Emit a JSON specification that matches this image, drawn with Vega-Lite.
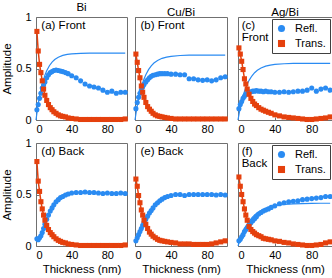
{
"$schema":"https://vega.github.io/schema/vega-lite/v6.json",
"padding":{"left":1,"top":1,"right":1,"bottom":0},
"background":"white",
"config":{
"font":"Liberation Sans",
"view":{"stroke":"#707070","strokeWidth":1},
"axis":{"grid":false,"domain":false,"tickColor":"#707070","tickSize":-3,"labelFontSize":11,"labelColor":"#000","titleFontSize":11.5,"titleFontWeight":"normal","titleColor":"#000","titlePadding":3},
"axisX":{"labelPadding":6},
"axisY":{"labelPadding":8},
"title":{"fontSize":11.5,"fontWeight":"normal","color":"#000","offset":-2},
"legend":{"labelFontSize":11,"labelColor":"#000","symbolSize":50,"symbolStrokeWidth":0,"padding":4,"rowPadding":3,"strokeColor":"#404040","fillColor":"#fff","offset":2,"labelOffset":8,"cornerRadius":0}
},
"datasets":{
"pts":[
{"p":"a","s":"Refl.","x":1,"y":0.10},{"p":"a","s":"Refl.","x":2.5,"y":0.15},{"p":"a","s":"Refl.","x":4,"y":0.21},{"p":"a","s":"Refl.","x":5.5,"y":0.26},{"p":"a","s":"Refl.","x":7,"y":0.31},{"p":"a","s":"Refl.","x":8.5,"y":0.34},{"p":"a","s":"Refl.","x":10,"y":0.37},{"p":"a","s":"Refl.","x":12,"y":0.41},{"p":"a","s":"Refl.","x":14,"y":0.44},{"p":"a","s":"Refl.","x":16,"y":0.46},{"p":"a","s":"Refl.","x":18,"y":0.47},{"p":"a","s":"Refl.","x":20,"y":0.48},{"p":"a","s":"Refl.","x":22.5,"y":0.485},{"p":"a","s":"Refl.","x":25,"y":0.48},{"p":"a","s":"Refl.","x":27.5,"y":0.475},{"p":"a","s":"Refl.","x":30,"y":0.47},{"p":"a","s":"Refl.","x":33,"y":0.46},{"p":"a","s":"Refl.","x":36,"y":0.45},{"p":"a","s":"Refl.","x":40,"y":0.43},{"p":"a","s":"Refl.","x":45,"y":0.41},{"p":"a","s":"Refl.","x":50,"y":0.38},{"p":"a","s":"Refl.","x":55,"y":0.35},{"p":"a","s":"Refl.","x":60,"y":0.33},{"p":"a","s":"Refl.","x":65,"y":0.32},{"p":"a","s":"Refl.","x":70,"y":0.31},{"p":"a","s":"Refl.","x":75,"y":0.29},{"p":"a","s":"Refl.","x":80,"y":0.27},{"p":"a","s":"Refl.","x":85,"y":0.28},{"p":"a","s":"Refl.","x":90,"y":0.26},{"p":"a","s":"Refl.","x":95,"y":0.27},{"p":"a","s":"Refl.","x":100,"y":0.27},
{"p":"a","s":"Trans.","x":1,"y":0.86},{"p":"a","s":"Trans.","x":2.5,"y":0.67},{"p":"a","s":"Trans.","x":4,"y":0.54},{"p":"a","s":"Trans.","x":5.5,"y":0.46},{"p":"a","s":"Trans.","x":7,"y":0.38},{"p":"a","s":"Trans.","x":8.5,"y":0.30},{"p":"a","s":"Trans.","x":10,"y":0.24},{"p":"a","s":"Trans.","x":12,"y":0.19},{"p":"a","s":"Trans.","x":14,"y":0.15},{"p":"a","s":"Trans.","x":16,"y":0.12},{"p":"a","s":"Trans.","x":18,"y":0.10},{"p":"a","s":"Trans.","x":20,"y":0.08},{"p":"a","s":"Trans.","x":22.5,"y":0.065},{"p":"a","s":"Trans.","x":25,"y":0.05},{"p":"a","s":"Trans.","x":27.5,"y":0.04},{"p":"a","s":"Trans.","x":30,"y":0.035},{"p":"a","s":"Trans.","x":33,"y":0.03},{"p":"a","s":"Trans.","x":36,"y":0.02},{"p":"a","s":"Trans.","x":40,"y":0.015},{"p":"a","s":"Trans.","x":45,"y":0.01},{"p":"a","s":"Trans.","x":50,"y":0.005},{"p":"a","s":"Trans.","x":55,"y":0.005},{"p":"a","s":"Trans.","x":60,"y":0.005},{"p":"a","s":"Trans.","x":65,"y":0.005},{"p":"a","s":"Trans.","x":70,"y":0.005},{"p":"a","s":"Trans.","x":75,"y":0.005},{"p":"a","s":"Trans.","x":80,"y":0.005},{"p":"a","s":"Trans.","x":85,"y":0.005},{"p":"a","s":"Trans.","x":90,"y":0.005},{"p":"a","s":"Trans.","x":95,"y":0.005},{"p":"a","s":"Trans.","x":100,"y":0.01},
{"p":"b","s":"Refl.","x":1,"y":0.11},{"p":"b","s":"Refl.","x":2.5,"y":0.17},{"p":"b","s":"Refl.","x":4,"y":0.22},{"p":"b","s":"Refl.","x":5.5,"y":0.26},{"p":"b","s":"Refl.","x":7,"y":0.29},{"p":"b","s":"Refl.","x":8.5,"y":0.32},{"p":"b","s":"Refl.","x":10,"y":0.345},{"p":"b","s":"Refl.","x":12,"y":0.37},{"p":"b","s":"Refl.","x":14,"y":0.39},{"p":"b","s":"Refl.","x":16,"y":0.41},{"p":"b","s":"Refl.","x":18,"y":0.425},{"p":"b","s":"Refl.","x":20,"y":0.435},{"p":"b","s":"Refl.","x":22.5,"y":0.44},{"p":"b","s":"Refl.","x":25,"y":0.445},{"p":"b","s":"Refl.","x":27.5,"y":0.45},{"p":"b","s":"Refl.","x":30,"y":0.45},{"p":"b","s":"Refl.","x":33,"y":0.45},{"p":"b","s":"Refl.","x":36,"y":0.45},{"p":"b","s":"Refl.","x":40,"y":0.445},{"p":"b","s":"Refl.","x":45,"y":0.445},{"p":"b","s":"Refl.","x":50,"y":0.44},{"p":"b","s":"Refl.","x":55,"y":0.44},{"p":"b","s":"Refl.","x":60,"y":0.40},{"p":"b","s":"Refl.","x":65,"y":0.40},{"p":"b","s":"Refl.","x":70,"y":0.39},{"p":"b","s":"Refl.","x":75,"y":0.385},{"p":"b","s":"Refl.","x":80,"y":0.39},{"p":"b","s":"Refl.","x":85,"y":0.38},{"p":"b","s":"Refl.","x":90,"y":0.39},{"p":"b","s":"Refl.","x":95,"y":0.41},{"p":"b","s":"Refl.","x":100,"y":0.42},
{"p":"b","s":"Trans.","x":1,"y":0.64},{"p":"b","s":"Trans.","x":2.5,"y":0.56},{"p":"b","s":"Trans.","x":4,"y":0.48},{"p":"b","s":"Trans.","x":5.5,"y":0.41},{"p":"b","s":"Trans.","x":7,"y":0.33},{"p":"b","s":"Trans.","x":8.5,"y":0.27},{"p":"b","s":"Trans.","x":10,"y":0.22},{"p":"b","s":"Trans.","x":12,"y":0.17},{"p":"b","s":"Trans.","x":14,"y":0.13},{"p":"b","s":"Trans.","x":16,"y":0.105},{"p":"b","s":"Trans.","x":18,"y":0.085},{"p":"b","s":"Trans.","x":20,"y":0.065},{"p":"b","s":"Trans.","x":22.5,"y":0.05},{"p":"b","s":"Trans.","x":25,"y":0.04},{"p":"b","s":"Trans.","x":27.5,"y":0.035},{"p":"b","s":"Trans.","x":30,"y":0.03},{"p":"b","s":"Trans.","x":33,"y":0.025},{"p":"b","s":"Trans.","x":36,"y":0.02},{"p":"b","s":"Trans.","x":40,"y":0.015},{"p":"b","s":"Trans.","x":45,"y":0.01},{"p":"b","s":"Trans.","x":50,"y":0.01},{"p":"b","s":"Trans.","x":55,"y":0.01},{"p":"b","s":"Trans.","x":60,"y":0.01},{"p":"b","s":"Trans.","x":65,"y":0.01},{"p":"b","s":"Trans.","x":70,"y":0.01},{"p":"b","s":"Trans.","x":75,"y":0.01},{"p":"b","s":"Trans.","x":80,"y":0.01},{"p":"b","s":"Trans.","x":85,"y":0.01},{"p":"b","s":"Trans.","x":90,"y":0.01},{"p":"b","s":"Trans.","x":95,"y":0.01},{"p":"b","s":"Trans.","x":100,"y":0.01},
{"p":"c","s":"Refl.","x":1,"y":0.11},{"p":"c","s":"Refl.","x":2.5,"y":0.15},{"p":"c","s":"Refl.","x":4,"y":0.18},{"p":"c","s":"Refl.","x":5.5,"y":0.21},{"p":"c","s":"Refl.","x":7,"y":0.23},{"p":"c","s":"Refl.","x":8.5,"y":0.25},{"p":"c","s":"Refl.","x":10,"y":0.26},{"p":"c","s":"Refl.","x":12,"y":0.27},{"p":"c","s":"Refl.","x":14,"y":0.275},{"p":"c","s":"Refl.","x":16,"y":0.28},{"p":"c","s":"Refl.","x":18,"y":0.28},{"p":"c","s":"Refl.","x":20,"y":0.285},{"p":"c","s":"Refl.","x":22.5,"y":0.28},{"p":"c","s":"Refl.","x":25,"y":0.28},{"p":"c","s":"Refl.","x":27.5,"y":0.275},{"p":"c","s":"Refl.","x":30,"y":0.28},{"p":"c","s":"Refl.","x":33,"y":0.275},{"p":"c","s":"Refl.","x":36,"y":0.275},{"p":"c","s":"Refl.","x":40,"y":0.27},{"p":"c","s":"Refl.","x":45,"y":0.27},{"p":"c","s":"Refl.","x":50,"y":0.275},{"p":"c","s":"Refl.","x":55,"y":0.27},{"p":"c","s":"Refl.","x":60,"y":0.275},{"p":"c","s":"Refl.","x":65,"y":0.28},{"p":"c","s":"Refl.","x":70,"y":0.28},{"p":"c","s":"Refl.","x":75,"y":0.29},{"p":"c","s":"Refl.","x":80,"y":0.31},{"p":"c","s":"Refl.","x":85,"y":0.28},{"p":"c","s":"Refl.","x":90,"y":0.30},{"p":"c","s":"Refl.","x":95,"y":0.31},{"p":"c","s":"Refl.","x":100,"y":0.29},
{"p":"c","s":"Trans.","x":1,"y":0.70},{"p":"c","s":"Trans.","x":2.5,"y":0.64},{"p":"c","s":"Trans.","x":4,"y":0.57},{"p":"c","s":"Trans.","x":5.5,"y":0.49},{"p":"c","s":"Trans.","x":7,"y":0.40},{"p":"c","s":"Trans.","x":8.5,"y":0.35},{"p":"c","s":"Trans.","x":10,"y":0.30},{"p":"c","s":"Trans.","x":12,"y":0.25},{"p":"c","s":"Trans.","x":14,"y":0.21},{"p":"c","s":"Trans.","x":16,"y":0.18},{"p":"c","s":"Trans.","x":18,"y":0.155},{"p":"c","s":"Trans.","x":20,"y":0.14},{"p":"c","s":"Trans.","x":22.5,"y":0.12},{"p":"c","s":"Trans.","x":25,"y":0.105},{"p":"c","s":"Trans.","x":27.5,"y":0.095},{"p":"c","s":"Trans.","x":30,"y":0.085},{"p":"c","s":"Trans.","x":33,"y":0.075},{"p":"c","s":"Trans.","x":36,"y":0.065},{"p":"c","s":"Trans.","x":40,"y":0.05},{"p":"c","s":"Trans.","x":45,"y":0.04},{"p":"c","s":"Trans.","x":50,"y":0.03},{"p":"c","s":"Trans.","x":55,"y":0.025},{"p":"c","s":"Trans.","x":60,"y":0.02},{"p":"c","s":"Trans.","x":65,"y":0.015},{"p":"c","s":"Trans.","x":70,"y":0.01},{"p":"c","s":"Trans.","x":75,"y":0.005},{"p":"c","s":"Trans.","x":80,"y":0.005},{"p":"c","s":"Trans.","x":85,"y":0.01},{"p":"c","s":"Trans.","x":90,"y":0.015},{"p":"c","s":"Trans.","x":95,"y":0.02},{"p":"c","s":"Trans.","x":100,"y":0.03},
{"p":"d","s":"Refl.","x":1,"y":0.07},{"p":"d","s":"Refl.","x":2.5,"y":0.06},{"p":"d","s":"Refl.","x":4,"y":0.08},{"p":"d","s":"Refl.","x":5.5,"y":0.10},{"p":"d","s":"Refl.","x":7,"y":0.13},{"p":"d","s":"Refl.","x":8.5,"y":0.17},{"p":"d","s":"Refl.","x":10,"y":0.21},{"p":"d","s":"Refl.","x":12,"y":0.26},{"p":"d","s":"Refl.","x":14,"y":0.30},{"p":"d","s":"Refl.","x":16,"y":0.34},{"p":"d","s":"Refl.","x":18,"y":0.37},{"p":"d","s":"Refl.","x":20,"y":0.40},{"p":"d","s":"Refl.","x":22.5,"y":0.43},{"p":"d","s":"Refl.","x":25,"y":0.45},{"p":"d","s":"Refl.","x":27.5,"y":0.47},{"p":"d","s":"Refl.","x":30,"y":0.48},{"p":"d","s":"Refl.","x":33,"y":0.495},{"p":"d","s":"Refl.","x":36,"y":0.505},{"p":"d","s":"Refl.","x":40,"y":0.515},{"p":"d","s":"Refl.","x":45,"y":0.52},{"p":"d","s":"Refl.","x":50,"y":0.52},{"p":"d","s":"Refl.","x":55,"y":0.525},{"p":"d","s":"Refl.","x":60,"y":0.52},{"p":"d","s":"Refl.","x":65,"y":0.52},{"p":"d","s":"Refl.","x":70,"y":0.515},{"p":"d","s":"Refl.","x":75,"y":0.51},{"p":"d","s":"Refl.","x":80,"y":0.515},{"p":"d","s":"Refl.","x":85,"y":0.51},{"p":"d","s":"Refl.","x":90,"y":0.51},{"p":"d","s":"Refl.","x":95,"y":0.515},{"p":"d","s":"Refl.","x":100,"y":0.51},
{"p":"d","s":"Trans.","x":1,"y":0.82},{"p":"d","s":"Trans.","x":2.5,"y":0.63},{"p":"d","s":"Trans.","x":4,"y":0.53},{"p":"d","s":"Trans.","x":5.5,"y":0.43},{"p":"d","s":"Trans.","x":7,"y":0.36},{"p":"d","s":"Trans.","x":8.5,"y":0.30},{"p":"d","s":"Trans.","x":10,"y":0.25},{"p":"d","s":"Trans.","x":12,"y":0.20},{"p":"d","s":"Trans.","x":14,"y":0.16},{"p":"d","s":"Trans.","x":16,"y":0.13},{"p":"d","s":"Trans.","x":18,"y":0.11},{"p":"d","s":"Trans.","x":20,"y":0.09},{"p":"d","s":"Trans.","x":22.5,"y":0.07},{"p":"d","s":"Trans.","x":25,"y":0.055},{"p":"d","s":"Trans.","x":27.5,"y":0.045},{"p":"d","s":"Trans.","x":30,"y":0.035},{"p":"d","s":"Trans.","x":33,"y":0.03},{"p":"d","s":"Trans.","x":36,"y":0.02},{"p":"d","s":"Trans.","x":40,"y":0.015},{"p":"d","s":"Trans.","x":45,"y":0.01},{"p":"d","s":"Trans.","x":50,"y":0.005},{"p":"d","s":"Trans.","x":55,"y":0.005},{"p":"d","s":"Trans.","x":60,"y":0.005},{"p":"d","s":"Trans.","x":65,"y":0.005},{"p":"d","s":"Trans.","x":70,"y":0.005},{"p":"d","s":"Trans.","x":75,"y":0.005},{"p":"d","s":"Trans.","x":80,"y":0.005},{"p":"d","s":"Trans.","x":85,"y":0.005},{"p":"d","s":"Trans.","x":90,"y":0.005},{"p":"d","s":"Trans.","x":95,"y":0.005},{"p":"d","s":"Trans.","x":100,"y":0.01},
{"p":"e","s":"Refl.","x":1,"y":0.05},{"p":"e","s":"Refl.","x":2.5,"y":0.08},{"p":"e","s":"Refl.","x":4,"y":0.11},{"p":"e","s":"Refl.","x":5.5,"y":0.14},{"p":"e","s":"Refl.","x":7,"y":0.17},{"p":"e","s":"Refl.","x":8.5,"y":0.20},{"p":"e","s":"Refl.","x":10,"y":0.23},{"p":"e","s":"Refl.","x":12,"y":0.26},{"p":"e","s":"Refl.","x":14,"y":0.29},{"p":"e","s":"Refl.","x":16,"y":0.32},{"p":"e","s":"Refl.","x":18,"y":0.345},{"p":"e","s":"Refl.","x":20,"y":0.37},{"p":"e","s":"Refl.","x":22.5,"y":0.40},{"p":"e","s":"Refl.","x":25,"y":0.42},{"p":"e","s":"Refl.","x":27.5,"y":0.44},{"p":"e","s":"Refl.","x":30,"y":0.455},{"p":"e","s":"Refl.","x":33,"y":0.47},{"p":"e","s":"Refl.","x":36,"y":0.48},{"p":"e","s":"Refl.","x":40,"y":0.49},{"p":"e","s":"Refl.","x":45,"y":0.50},{"p":"e","s":"Refl.","x":50,"y":0.50},{"p":"e","s":"Refl.","x":55,"y":0.49},{"p":"e","s":"Refl.","x":60,"y":0.50},{"p":"e","s":"Refl.","x":65,"y":0.50},{"p":"e","s":"Refl.","x":70,"y":0.50},{"p":"e","s":"Refl.","x":75,"y":0.50},{"p":"e","s":"Refl.","x":80,"y":0.50},{"p":"e","s":"Refl.","x":85,"y":0.50},{"p":"e","s":"Refl.","x":90,"y":0.495},{"p":"e","s":"Refl.","x":95,"y":0.50},{"p":"e","s":"Refl.","x":100,"y":0.495},
{"p":"e","s":"Trans.","x":1,"y":0.65},{"p":"e","s":"Trans.","x":2.5,"y":0.58},{"p":"e","s":"Trans.","x":4,"y":0.49},{"p":"e","s":"Trans.","x":5.5,"y":0.42},{"p":"e","s":"Trans.","x":7,"y":0.35},{"p":"e","s":"Trans.","x":8.5,"y":0.30},{"p":"e","s":"Trans.","x":10,"y":0.25},{"p":"e","s":"Trans.","x":12,"y":0.21},{"p":"e","s":"Trans.","x":14,"y":0.17},{"p":"e","s":"Trans.","x":16,"y":0.135},{"p":"e","s":"Trans.","x":18,"y":0.115},{"p":"e","s":"Trans.","x":20,"y":0.095},{"p":"e","s":"Trans.","x":22.5,"y":0.08},{"p":"e","s":"Trans.","x":25,"y":0.065},{"p":"e","s":"Trans.","x":27.5,"y":0.055},{"p":"e","s":"Trans.","x":30,"y":0.05},{"p":"e","s":"Trans.","x":33,"y":0.045},{"p":"e","s":"Trans.","x":36,"y":0.04},{"p":"e","s":"Trans.","x":40,"y":0.035},{"p":"e","s":"Trans.","x":45,"y":0.03},{"p":"e","s":"Trans.","x":50,"y":0.02},{"p":"e","s":"Trans.","x":55,"y":0.02},{"p":"e","s":"Trans.","x":60,"y":0.02},{"p":"e","s":"Trans.","x":65,"y":0.015},{"p":"e","s":"Trans.","x":70,"y":0.015},{"p":"e","s":"Trans.","x":75,"y":0.015},{"p":"e","s":"Trans.","x":80,"y":0.015},{"p":"e","s":"Trans.","x":85,"y":0.02},{"p":"e","s":"Trans.","x":90,"y":0.03},{"p":"e","s":"Trans.","x":95,"y":0.04},{"p":"e","s":"Trans.","x":100,"y":0.05},
{"p":"f","s":"Refl.","x":1,"y":0.05},{"p":"f","s":"Refl.","x":2.5,"y":0.065},{"p":"f","s":"Refl.","x":4,"y":0.09},{"p":"f","s":"Refl.","x":5.5,"y":0.11},{"p":"f","s":"Refl.","x":7,"y":0.14},{"p":"f","s":"Refl.","x":8.5,"y":0.16},{"p":"f","s":"Refl.","x":10,"y":0.18},{"p":"f","s":"Refl.","x":12,"y":0.20},{"p":"f","s":"Refl.","x":14,"y":0.225},{"p":"f","s":"Refl.","x":16,"y":0.245},{"p":"f","s":"Refl.","x":18,"y":0.265},{"p":"f","s":"Refl.","x":20,"y":0.285},{"p":"f","s":"Refl.","x":22.5,"y":0.31},{"p":"f","s":"Refl.","x":25,"y":0.325},{"p":"f","s":"Refl.","x":27.5,"y":0.34},{"p":"f","s":"Refl.","x":30,"y":0.35},{"p":"f","s":"Refl.","x":33,"y":0.36},{"p":"f","s":"Refl.","x":36,"y":0.375},{"p":"f","s":"Refl.","x":40,"y":0.39},{"p":"f","s":"Refl.","x":45,"y":0.41},{"p":"f","s":"Refl.","x":50,"y":0.42},{"p":"f","s":"Refl.","x":55,"y":0.43},{"p":"f","s":"Refl.","x":60,"y":0.435},{"p":"f","s":"Refl.","x":65,"y":0.44},{"p":"f","s":"Refl.","x":70,"y":0.45},{"p":"f","s":"Refl.","x":75,"y":0.455},{"p":"f","s":"Refl.","x":80,"y":0.46},{"p":"f","s":"Refl.","x":85,"y":0.465},{"p":"f","s":"Refl.","x":90,"y":0.47},{"p":"f","s":"Refl.","x":95,"y":0.48},{"p":"f","s":"Refl.","x":100,"y":0.48},
{"p":"f","s":"Trans.","x":1,"y":0.67},{"p":"f","s":"Trans.","x":2.5,"y":0.58},{"p":"f","s":"Trans.","x":4,"y":0.50},{"p":"f","s":"Trans.","x":5.5,"y":0.43},{"p":"f","s":"Trans.","x":7,"y":0.36},{"p":"f","s":"Trans.","x":8.5,"y":0.30},{"p":"f","s":"Trans.","x":10,"y":0.25},{"p":"f","s":"Trans.","x":12,"y":0.19},{"p":"f","s":"Trans.","x":14,"y":0.16},{"p":"f","s":"Trans.","x":16,"y":0.14},{"p":"f","s":"Trans.","x":18,"y":0.125},{"p":"f","s":"Trans.","x":20,"y":0.11},{"p":"f","s":"Trans.","x":22.5,"y":0.10},{"p":"f","s":"Trans.","x":25,"y":0.09},{"p":"f","s":"Trans.","x":27.5,"y":0.075},{"p":"f","s":"Trans.","x":30,"y":0.07},{"p":"f","s":"Trans.","x":33,"y":0.065},{"p":"f","s":"Trans.","x":36,"y":0.06},{"p":"f","s":"Trans.","x":40,"y":0.05},{"p":"f","s":"Trans.","x":45,"y":0.045},{"p":"f","s":"Trans.","x":50,"y":0.035},{"p":"f","s":"Trans.","x":55,"y":0.03},{"p":"f","s":"Trans.","x":60,"y":0.02},{"p":"f","s":"Trans.","x":65,"y":0.015},{"p":"f","s":"Trans.","x":70,"y":0.01},{"p":"f","s":"Trans.","x":75,"y":0.005},{"p":"f","s":"Trans.","x":80,"y":0.005},{"p":"f","s":"Trans.","x":85,"y":0.01},{"p":"f","s":"Trans.","x":90,"y":0.015},{"p":"f","s":"Trans.","x":95,"y":0.03},{"p":"f","s":"Trans.","x":100,"y":0.04}
],
"fit":[
{"p":"a","x":0,"y":0},{"p":"a","x":2,"y":0.129},{"p":"a","x":4,"y":0.233},{"p":"a","x":6,"y":0.317},{"p":"a","x":8,"y":0.383},{"p":"a","x":10,"y":0.436},{"p":"a","x":12,"y":0.478},{"p":"a","x":15,"y":0.527},{"p":"a","x":18,"y":0.562},{"p":"a","x":21,"y":0.587},{"p":"a","x":25,"y":0.61},{"p":"a","x":30,"y":0.627},{"p":"a","x":35,"y":0.637},{"p":"a","x":40,"y":0.642},{"p":"a","x":50,"y":0.647},{"p":"a","x":60,"y":0.649},{"p":"a","x":70,"y":0.65},{"p":"a","x":80,"y":0.65},{"p":"a","x":90,"y":0.65},{"p":"a","x":100,"y":0.65},
{"p":"b","x":0,"y":0},{"p":"b","x":2,"y":0.114},{"p":"b","x":4,"y":0.208},{"p":"b","x":6,"y":0.284},{"p":"b","x":8,"y":0.347},{"p":"b","x":10,"y":0.398},{"p":"b","x":12,"y":0.44},{"p":"b","x":15,"y":0.489},{"p":"b","x":18,"y":0.526},{"p":"b","x":21,"y":0.553},{"p":"b","x":25,"y":0.578},{"p":"b","x":30,"y":0.599},{"p":"b","x":35,"y":0.611},{"p":"b","x":40,"y":0.618},{"p":"b","x":50,"y":0.626},{"p":"b","x":60,"y":0.629},{"p":"b","x":70,"y":0.63},{"p":"b","x":80,"y":0.63},{"p":"b","x":90,"y":0.63},{"p":"b","x":100,"y":0.63},
{"p":"c","x":0,"y":0},{"p":"c","x":2,"y":0.1},{"p":"c","x":4,"y":0.181},{"p":"c","x":6,"y":0.248},{"p":"c","x":8,"y":0.303},{"p":"c","x":10,"y":0.348},{"p":"c","x":12,"y":0.385},{"p":"c","x":15,"y":0.427},{"p":"c","x":18,"y":0.459},{"p":"c","x":21,"y":0.483},{"p":"c","x":25,"y":0.505},{"p":"c","x":30,"y":0.523},{"p":"c","x":35,"y":0.533},{"p":"c","x":40,"y":0.54},{"p":"c","x":50,"y":0.546},{"p":"c","x":60,"y":0.549},{"p":"c","x":70,"y":0.55},{"p":"c","x":80,"y":0.55},{"p":"c","x":90,"y":0.55},{"p":"c","x":100,"y":0.55},
{"p":"f","x":0,"y":0},{"p":"f","x":2,"y":0.055},{"p":"f","x":4,"y":0.103},{"p":"f","x":6,"y":0.145},{"p":"f","x":8,"y":0.181},{"p":"f","x":10,"y":0.212},{"p":"f","x":12,"y":0.239},{"p":"f","x":15,"y":0.273},{"p":"f","x":18,"y":0.301},{"p":"f","x":21,"y":0.322},{"p":"f","x":25,"y":0.345},{"p":"f","x":30,"y":0.366},{"p":"f","x":35,"y":0.381},{"p":"f","x":40,"y":0.391},{"p":"f","x":50,"y":0.403},{"p":"f","x":60,"y":0.409},{"p":"f","x":70,"y":0.412},{"p":"f","x":80,"y":0.414},{"p":"f","x":90,"y":0.415},{"p":"f","x":100,"y":0.415}
]
},
"spacing":1,
"resolve":{"scale":{"color":"independent","shape":"independent"},"legend":{"color":"independent","shape":"independent"}},
"vconcat":[
{"spacing":3,
"resolve":{"scale":{"color":"independent","shape":"independent"},"legend":{"color":"independent","shape":"independent"}},
"hconcat":[
{"width":91,"height":103,"title":"Bi",
"layer":[
{"data":{"name":"fit"},"transform":[{"filter":"datum.p=='a'"}],"mark":{"type":"line","color":"#2a8bf2","strokeWidth":1.2},
"encoding":{"x":{"field":"x","type":"quantitative","scale":{"domain":[0,102],"nice":false},"axis":{"values":[0,40,80],"title":null,"format":"d"}},"y":{"field":"y","type":"quantitative","scale":{"domain":[0,1],"nice":false},"axis":{"values":[0,0.5,1],"title":"Amplitude","format":".1~f"}}}},
{"data":{"name":"pts"},"transform":[{"filter":"datum.p=='a' && datum.s=='Trans.'"}],"mark":{"type":"line","color":"#e5400d","strokeWidth":1.5},
"encoding":{"x":{"field":"x","type":"quantitative"},"y":{"field":"y","type":"quantitative"}}},
{"data":{"name":"pts"},"transform":[{"filter":"datum.p=='a'"}],"mark":{"type":"point","filled":true,"size":26,"opacity":1},
"encoding":{"x":{"field":"x","type":"quantitative"},"y":{"field":"y","type":"quantitative"},
"color":{"field":"s","type":"nominal","scale":{"domain":["Refl.","Trans."],"range":["#2a8bf2","#e5400d"]},"legend":null},
"shape":{"field":"s","type":"nominal","scale":{"domain":["Refl.","Trans."],"range":["circle","square"]},"legend":null}}},
{"data":{"values":[{}]},"mark":{"type":"text","text":"(a) Front","align":"left","baseline":"top","fontSize":11.5,"color":"#000"},"encoding":{"x":{"datum":6},"y":{"datum":0.975}}}
]},
{"width":92,"height":103,"title":"Cu/Bi",
"layer":[
{"data":{"name":"fit"},"transform":[{"filter":"datum.p=='b'"}],"mark":{"type":"line","color":"#2a8bf2","strokeWidth":1.2},
"encoding":{"x":{"field":"x","type":"quantitative","scale":{"domain":[0,102],"nice":false},"axis":{"values":[0,40,80],"title":null,"format":"d"}},"y":{"field":"y","type":"quantitative","scale":{"domain":[0,1],"nice":false},"axis":{"values":[0,0.5,1],"title":null,"labels":false}}}},
{"data":{"name":"pts"},"transform":[{"filter":"datum.p=='b' && datum.s=='Trans.'"}],"mark":{"type":"line","color":"#e5400d","strokeWidth":1.5},
"encoding":{"x":{"field":"x","type":"quantitative"},"y":{"field":"y","type":"quantitative"}}},
{"data":{"name":"pts"},"transform":[{"filter":"datum.p=='b'"}],"mark":{"type":"point","filled":true,"size":26,"opacity":1},
"encoding":{"x":{"field":"x","type":"quantitative"},"y":{"field":"y","type":"quantitative"},
"color":{"field":"s","type":"nominal","scale":{"domain":["Refl.","Trans."],"range":["#2a8bf2","#e5400d"]},"legend":null},
"shape":{"field":"s","type":"nominal","scale":{"domain":["Refl.","Trans."],"range":["circle","square"]},"legend":null}}},
{"data":{"values":[{}]},"mark":{"type":"text","text":"(b) Front","align":"left","baseline":"top","fontSize":11.5,"color":"#000"},"encoding":{"x":{"datum":6},"y":{"datum":0.975}}}
]},
{"width":94,"height":103,"title":"Ag/Bi",
"layer":[
{"data":{"name":"fit"},"transform":[{"filter":"datum.p=='c'"}],"mark":{"type":"line","color":"#2a8bf2","strokeWidth":1.2},
"encoding":{"x":{"field":"x","type":"quantitative","scale":{"domain":[0,102],"nice":false},"axis":{"values":[0,40,80],"title":null,"format":"d"}},"y":{"field":"y","type":"quantitative","scale":{"domain":[0,1],"nice":false},"axis":{"values":[0,0.5,1],"title":null,"labels":false,"minExtent":5}}}},
{"data":{"name":"pts"},"transform":[{"filter":"datum.p=='c' && datum.s=='Trans.'"}],"mark":{"type":"line","color":"#e5400d","strokeWidth":1.5},
"encoding":{"x":{"field":"x","type":"quantitative"},"y":{"field":"y","type":"quantitative"}}},
{"data":{"name":"pts"},"transform":[{"filter":"datum.p=='c'"}],"mark":{"type":"point","filled":true,"size":26,"opacity":1},
"encoding":{"x":{"field":"x","type":"quantitative"},"y":{"field":"y","type":"quantitative"},
"color":{"field":"s","type":"nominal","scale":{"domain":["Refl.","Trans."],"range":["#2a8bf2","#e5400d"]},"legend":{"orient":"top-right","title":null}},
"shape":{"field":"s","type":"nominal","scale":{"domain":["Refl.","Trans."],"range":["circle","square"]},"legend":{"orient":"top-right","title":null}}}},
{"data":{"values":[{}]},"mark":{"type":"text","text":["(c)","Front"],"lineHeight":12,"align":"left","baseline":"top","fontSize":11.5,"color":"#000"},"encoding":{"x":{"datum":4},"y":{"datum":0.975}}}
]}
]},
{"spacing":3,
"resolve":{"scale":{"color":"independent","shape":"independent"},"legend":{"color":"independent","shape":"independent"}},
"hconcat":[
{"width":91,"height":103,
"layer":[
{"data":{"name":"pts"},"transform":[{"filter":"datum.p=='d' && datum.s=='Trans.'"}],"mark":{"type":"line","color":"#e5400d","strokeWidth":1.5},
"encoding":{"x":{"field":"x","type":"quantitative","scale":{"domain":[0,102],"nice":false},"axis":{"values":[0,40,80],"title":"Thickness (nm)","format":"d"}},"y":{"field":"y","type":"quantitative","scale":{"domain":[0,1],"nice":false},"axis":{"values":[0,0.5,1],"title":"Amplitude","format":".1~f"}}}},
{"data":{"name":"pts"},"transform":[{"filter":"datum.p=='d'"}],"mark":{"type":"point","filled":true,"size":26,"opacity":1},
"encoding":{"x":{"field":"x","type":"quantitative"},"y":{"field":"y","type":"quantitative"},
"color":{"field":"s","type":"nominal","scale":{"domain":["Refl.","Trans."],"range":["#2a8bf2","#e5400d"]},"legend":null},
"shape":{"field":"s","type":"nominal","scale":{"domain":["Refl.","Trans."],"range":["circle","square"]},"legend":null}}},
{"data":{"values":[{}]},"mark":{"type":"text","text":"(d) Back","align":"left","baseline":"top","fontSize":11.5,"color":"#000"},"encoding":{"x":{"datum":6},"y":{"datum":0.975}}}
]},
{"width":92,"height":103,
"layer":[
{"data":{"name":"pts"},"transform":[{"filter":"datum.p=='e' && datum.s=='Trans.'"}],"mark":{"type":"line","color":"#e5400d","strokeWidth":1.5},
"encoding":{"x":{"field":"x","type":"quantitative","scale":{"domain":[0,102],"nice":false},"axis":{"values":[0,40,80],"title":"Thickness (nm)","format":"d"}},"y":{"field":"y","type":"quantitative","scale":{"domain":[0,1],"nice":false},"axis":{"values":[0,0.5,1],"title":null,"labels":false}}}},
{"data":{"name":"pts"},"transform":[{"filter":"datum.p=='e'"}],"mark":{"type":"point","filled":true,"size":26,"opacity":1},
"encoding":{"x":{"field":"x","type":"quantitative"},"y":{"field":"y","type":"quantitative"},
"color":{"field":"s","type":"nominal","scale":{"domain":["Refl.","Trans."],"range":["#2a8bf2","#e5400d"]},"legend":null},
"shape":{"field":"s","type":"nominal","scale":{"domain":["Refl.","Trans."],"range":["circle","square"]},"legend":null}}},
{"data":{"values":[{}]},"mark":{"type":"text","text":"(e) Back","align":"left","baseline":"top","fontSize":11.5,"color":"#000"},"encoding":{"x":{"datum":6},"y":{"datum":0.975}}}
]},
{"width":94,"height":103,
"layer":[
{"data":{"name":"fit"},"transform":[{"filter":"datum.p=='f'"}],"mark":{"type":"line","color":"#2a8bf2","strokeWidth":1.2},
"encoding":{"x":{"field":"x","type":"quantitative","scale":{"domain":[0,102],"nice":false},"axis":{"values":[0,40,80],"title":"Thickness (nm)","format":"d"}},"y":{"field":"y","type":"quantitative","scale":{"domain":[0,1],"nice":false},"axis":{"values":[0,0.5,1],"title":null,"labels":false,"minExtent":5}}}},
{"data":{"name":"pts"},"transform":[{"filter":"datum.p=='f' && datum.s=='Trans.'"}],"mark":{"type":"line","color":"#e5400d","strokeWidth":1.5},
"encoding":{"x":{"field":"x","type":"quantitative"},"y":{"field":"y","type":"quantitative"}}},
{"data":{"name":"pts"},"transform":[{"filter":"datum.p=='f'"}],"mark":{"type":"point","filled":true,"size":26,"opacity":1},
"encoding":{"x":{"field":"x","type":"quantitative"},"y":{"field":"y","type":"quantitative"},
"color":{"field":"s","type":"nominal","scale":{"domain":["Refl.","Trans."],"range":["#2a8bf2","#e5400d"]},"legend":{"orient":"top-right","title":null}},
"shape":{"field":"s","type":"nominal","scale":{"domain":["Refl.","Trans."],"range":["circle","square"]},"legend":{"orient":"top-right","title":null}}}},
{"data":{"values":[{}]},"mark":{"type":"text","text":["(f)","Back"],"lineHeight":12,"align":"left","baseline":"top","fontSize":11.5,"color":"#000"},"encoding":{"x":{"datum":4},"y":{"datum":0.975}}}
]}
]}
]
}
